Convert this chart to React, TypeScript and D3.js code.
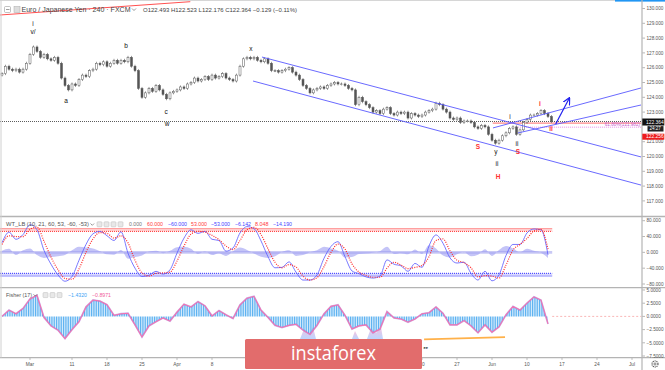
import React from "react";
import * as d3 from "d3";

const FONT = "'Liberation Sans', Arial, sans-serif";

// ---- price data: closes of half-day bars (trading day = index / 2)
const closes = [
  125.6,126.1,125.9,125.8,125.9,125.7,125.9,126.3,126.9,127.4,
  127.1,126.7,126.9,126.6,126.5,126.7,126.3,125.3,124.8,124.5,
  124.9,124.8,125.2,125.5,125.4,125.8,125.9,126.3,126.2,126.4,
  126.1,126.3,126.5,126.3,126.5,126.4,126.7,126.1,125.8,124.6,
  124.0,124.3,124.6,124.4,124.8,124.5,124.2,123.9,124.3,124.4,
  124.5,124.7,124.6,124.9,125.0,125.3,125.1,125.2,125.4,125.2,
  125.5,125.3,125.4,125.6,125.3,125.2,125.1,125.5,126.1,126.6,
  126.7,126.6,126.7,126.5,126.4,126.6,126.3,125.8,125.8,125.7,
  125.8,125.9,126.0,125.7,125.5,125.2,124.8,124.6,124.3,124.5,
  124.6,124.7,124.6,124.8,124.9,125.0,124.9,124.9,124.8,124.6,
  124.5,123.5,124.0,123.7,123.5,123.3,123.0,123.1,122.9,123.2,
  123.3,122.9,122.8,123.0,122.9,123.0,122.6,122.9,122.8,122.7,
  122.8,123.0,123.1,123.2,123.6,123.5,123.2,123.0,122.6,122.5,
  122.6,122.3,122.4,122.4,122.3,122.0,121.9,122.1,122.0,121.5,
  121.1,120.9,121.1,121.4,121.6,121.9,122.0,121.5,121.8,122.3,
  122.5,122.8,122.8,122.9,123.1,122.9,122.7,122.364,
];
const firstOpen = 125.5;

// ---- oscillators, one value per trading day
const wt1 = [
  24,51,33,45,70,57,5,-30,-57,-73,
  -61,-20,20,47,53,42,30,52,-2,-40,
  -61,-58,-48,-55,-44,-2,36,57,48,53,
  33,30,3,11,49,65,60,29,-11,-39,
  -38,-24,-50,-70,-70,-57,-15,15,27,-11,
  -47,-54,-62,-65,-60,-19,-30,-34,-48,-28,
  -38,16,44,23,-14,-27,-25,-53,-70,-48,
  -72,-57,-8,20,20,49,59,57,-6,
];
const wt2 = [
  20,42,40,40,58,64,28,-12,-44,-66,
  -68,-42,0,34,50,48,36,42,24,-20,
  -52,-60,-53,-52,-50,-22,16,46,53,51,
  43,32,16,7,30,57,63,45,9,-25,
  -39,-31,-37,-60,-70,-64,-36,0,21,8,
  -29,-50,-58,-63,-63,-40,-25,-32,-41,-38,
  -33,-11,30,34,4,-20,-26,-39,-62,-59,
  -60,-65,-32,6,20,35,54,58,8,
];
const wtHist = [
  4,9,-7,5,10,-7,-14,-12,-10,-7,
  5,14,12,10,3,-5,-6,6,-16,-12,
  -8,2,4,-2,4,13,14,9,-4,2,
  -7,-2,-9,3,12,6,-3,-11,-14,-10,
  1,5,-9,-7,0,5,14,10,4,-13,
  -12,-4,-3,-1,3,14,-4,-2,-5,7,
  -4,18,10,-8,-13,-5,1,-10,-6,8,
  -9,6,16,10,0,9,4,-1,-14,
];
const fisher = [
  0,1.2,0.5,1.5,3.3,4.0,-0.2,-1.8,-2.6,-4.2,
  -2.5,-1.0,1.8,3.1,2.9,2.2,0.2,0.5,0.6,-1.6,
  -3.9,-1.8,-1.0,-0.3,-0.9,0.8,2.3,1.8,2.8,2.0,
  0.1,1.1,0.3,-0.4,2.2,3.45,3.8,1.2,-0.2,-1.7,
  -2.1,-1.7,-1.5,-2.6,-3.4,-1.7,0.5,1.9,2.2,0.2,
  -2.4,-1.8,-1.6,-3.1,-2.4,0.9,-0.3,-0.5,-1.1,-0.5,
  0.5,0.7,1.8,0.6,-1.6,-1.6,-0.8,-1.8,-3.1,-1.6,
  -3.0,-2.0,0.3,1.9,1.2,2.5,3.7,3.1,-1.43,
];

// ---- axis ticks (labels hidden behind other labels / watermark are not shown)
const priceTicks = [130, 129, 128, 127, 126, 125, 124, 123, 121, 120, 119, 118, 117];
const wtTicks = [80, 40, 0, -40, -80];
const fisherTicks = [5, 2.5, 0, -2.5, -5, -7.5];
const timeLabels = ["Mar", "11", "18", "25", "Apr", "8", "20", "27", "Jun", "10", "17", "24", "Jul"];
const timeDays = [4, 10, 15, 20, 25, 30, 60, 65, 70, 75, 80, 85, 90];

// ---- drawings (day, price)
const channelLines: [number, number][][] = [
  [[37.14, 126.72], [91.29, 119.97]],
  [[35.86, 125.10], [91.29, 118.07]],
  [[70.14, 121.93], [91.29, 124.63]],
  [[73.71, 121.59], [91.29, 123.48]],
];
const arrowLine: [number, number][] = [[79.1, 122.2], [81.0, 123.9]];
const redTopLine: [number, number][] = [[-0.3, 129.56], [26.9, 130.46]];
const lastPrice = 122.364;
const redLevel = 122.256;
const fibLevel = 121.982;
const redLevelStart = 70.1;
const fibStart = 73.7;
const orangeFisherLine: [number, number][] = [[60.3, -4.37], [71.86, -3.94]];

const waveLabels = [
  { d: 4.43, p: 129.0, t: "i", c: "#111" },
  { d: 4.43, p: 128.4, t: "v/", c: "#111" },
  { d: 9.14, p: 123.75, t: "a", c: "#111" },
  { d: 17.71, p: 127.5, t: "b", c: "#111" },
  { d: 23.43, p: 123.0, t: "c", c: "#111" },
  { d: 23.57, p: 122.2, t: "w", c: "#111" },
  { d: 35.57, p: 127.26, t: "x", c: "#111" },
  { d: 68.0, p: 120.64, t: "S", c: "#ff3030" },
  { d: 70.57, p: 120.3, t: "y", c: "#111" },
  { d: 70.71, p: 119.49, t: "ii", c: "#111" },
  { d: 70.86, p: 118.61, t: "H", c: "#ff3030" },
  { d: 72.57, p: 122.67, t: "i", c: "#111" },
  { d: 73.57, p: 120.84, t: "ii", c: "#111" },
  { d: 73.71, p: 120.3, t: "S", c: "#ff3030" },
  { d: 76.86, p: 123.55, t: "i", c: "#ff3030" },
  { d: 78.43, p: 121.86, t: "ii", c: "#ff3030" },
];

// ---- scales
const dayX = d3.scaleLinear().domain([0, 91.3]).range([2, 641.1]);
const priceY = d3.scaleLinear().domain([117, 130]).range([200.9, 8.5]);
const wtY = d3.scaleLinear().domain([-80, 80]).range([284, 220.7]);
const fisherY = d3.scaleLinear().domain([-7.5, 5]).range([356, 290]);

const AX = 641.5;
const minus = (s: string) => s.replace("-", "\u2212");

export default function App() {
  const candleW = 2.0;
  const candles = closes.map((c, i) => {
    const o = i === 0 ? firstOpen : closes[i - 1];
    const hi = Math.max(o, c) + 0.1;
    const lo = Math.min(o, c) - 0.1;
    const x = dayX(i / 2);
    const up = c >= o;
    const yTop = priceY(Math.max(o, c));
    const yBot = priceY(Math.min(o, c));
    return (
      <g key={i}>
        <line x1={x} x2={x} y1={priceY(hi)} y2={priceY(lo)} stroke="#555" strokeWidth={0.6} />
        <rect x={x - candleW / 2} y={yTop} width={candleW} height={Math.max(0.6, yBot - yTop)}
          fill={up ? "#fff" : "#555"} stroke="#555" strokeWidth={0.5} />
      </g>
    );
  });

  const ptLine = d3.line<[number, number]>().x((d) => dayX(d[0])).y((d) => priceY(d[1]));
  const wtLine = d3.line<number>().x((_, i) => dayX(i)).y((v) => wtY(v)).curve(d3.curveMonotoneX);
  const wtArea = d3.area<number>().x((_, i) => dayX(i)).y0(wtY(0)).y1((v) => wtY(v)).curve(d3.curveMonotoneX);
  const fLine = d3.line<number>().x((_, i) => dayX(i)).y((v) => fisherY(v));
  const fArea = d3.area<number>().x((_, i) => dayX(i)).y0(fisherY(0)).y1((v) => fisherY(v));
  const oscEnd = dayX(78.6);

  const iconSq = (x: number, y: number, k: number) => (
    <rect key={k} x={x} y={y} width={5} height={5} rx={0.8} fill="#e8e8e8" stroke="#bbb" strokeWidth={0.5} />
  );

  return (
    <svg width={665} height={370} style={{ position: "absolute", left: 0, top: 0, background: "#fff" }} fontFamily={FONT}>
      <defs>
        <clipPath id="cMain"><rect x={0} y={0} width={AX} height={216} /></clipPath>
        <clipPath id="cWt"><rect x={0} y={217} width={AX} height={70} /></clipPath>
        <clipPath id="cFi"><rect x={0} y={288} width={AX} height={69} /></clipPath>
        <pattern id="stripes" width={1.75} height={4} patternUnits="userSpaceOnUse">
          <rect x={0} y={0} width={1.05} height={4} fill="#55aef0" />
        </pattern>
        <marker id="arr" viewBox="0 0 10 10" refX={8} refY={5} markerWidth={6} markerHeight={6} orient="auto">
          <path d="M0,0 L10,5 L0,10" fill="none" stroke="#2020ee" strokeWidth={1.6} />
        </marker>
        <linearGradient id="logoG" x1="0" y1="1" x2="0" y2="0">
          <stop offset="0" stopColor="#9fc4ff" />
          <stop offset="1" stopColor="#f4a6d0" />
        </linearGradient>
      </defs>

      <rect x={0} y={0} width={665} height={370} fill="#fff" />

      {/* ===== MAIN PANE ===== */}
      <g clipPath="url(#cMain)">
        <line x1={0} x2={AX} y1={priceY(lastPrice)} y2={priceY(lastPrice)} stroke="#333" strokeWidth={0.8} strokeDasharray="1,1" />
        <line x1={dayX(redLevelStart)} x2={AX} y1={priceY(redLevel)} y2={priceY(redLevel)} stroke="#ff6b6b" strokeWidth={1.2} opacity={0.8} />
        <line x1={dayX(fibStart)} x2={AX} y1={priceY(fibLevel)} y2={priceY(fibLevel)} stroke="#e070e0" strokeWidth={0.8} strokeDasharray="1,1" />
        <text x={640} y={priceY(fibLevel) - 1.4} textAnchor="end" fontSize={4.6} fill="#c45ed0">61.80%(121.982)</text>
        {candles}
        {channelLines.map((l, i) => (
          <path key={i} d={ptLine(l) || ""} stroke="#5a5aff" strokeWidth={1} fill="none" opacity={0.9} />
        ))}
        <path d={ptLine(arrowLine) || ""} stroke="#2020ee" strokeWidth={1.2} fill="none" markerEnd="url(#arr)" />
        <path d={ptLine(redTopLine) || ""} stroke="#ff5050" strokeWidth={1} fill="none" />
        {waveLabels.map((w, i) => (
          <text key={i} x={dayX(w.d)} y={priceY(w.p) + 2.2} textAnchor="middle" fontSize={6.5}
            fill={w.c} fontWeight={w.c === "#111" ? 400 : 700}>{w.t}</text>
        ))}
      </g>

      {/* header */}
      <rect x={0} y={0} width={665} height={1} fill="#d6d6d6" />
      <rect x={615} y={0} width={50} height={1.6} fill="#2196f3" />
      <rect x={4.5} y={6.5} width={6} height={6} rx={1} fill="#fff" stroke="#999" strokeWidth={0.6} />
      <line x1={6} x2={9.5} y1={9.5} y2={9.5} stroke="#777" strokeWidth={0.7} />
      <rect x={14} y={6.5} width={6} height={6} fill="#ddd" stroke="#aaa" strokeWidth={0.5} />
      <text x={21.5} y={12.3} fontSize={7} fill="#444" textLength={109} lengthAdjust="spacingAndGlyphs">Euro / Japanese Yen · 240 · FXCM</text>
      <path d="M132,8.5 L134,10.5 L136,8.5" fill="none" stroke="#555" strokeWidth={0.6} />
      <text x={143} y={12} fontSize={5.8} fill="#444" textLength={154} lengthAdjust="spacingAndGlyphs">O122.493  H122.523  L122.176  C122.364  −0.129 (−0.11%)</text>

      {/* ===== WT PANE ===== */}
      <g clipPath="url(#cWt)">
        <rect x={0} y={wtY(60)} width={oscEnd} height={wtY(53) - wtY(60)} fill="#ffb3b3" opacity={0.55} />
        <line x1={0} x2={oscEnd} y1={wtY(60)} y2={wtY(60)} stroke="#ff8a8a" strokeWidth={0.9} />
        <line x1={0} x2={oscEnd} y1={wtY(53)} y2={wtY(53)} stroke="#ff3030" strokeWidth={1} strokeDasharray="1,1" />
        <rect x={0} y={wtY(-53)} width={oscEnd} height={wtY(-60) - wtY(-53)} fill="#b9b9ff" opacity={0.55} />
        <line x1={0} x2={oscEnd} y1={wtY(-60)} y2={wtY(-60)} stroke="#8a8aff" strokeWidth={0.9} />
        <line x1={0} x2={oscEnd} y1={wtY(-53)} y2={wtY(-53)} stroke="#3030ff" strokeWidth={1} strokeDasharray="1,1" />
        <line x1={0} x2={oscEnd} y1={wtY(0)} y2={wtY(0)} stroke="#c9c9f5" strokeWidth={2.6} />
        <path d={wtArea(wtHist) || ""} fill="#9c9cf2" opacity={0.6} />
        <path d={wtLine(wt1) || ""} fill="none" stroke="#6060ff" strokeWidth={1} opacity={0.85} />
        <path d={wtLine(wt2) || ""} fill="none" stroke="#ff2a2a" strokeWidth={1.2} strokeDasharray="1,1.3" />
      </g>
      <text x={6} y={226.3} fontSize={5.6} fill="#555" textLength={83} lengthAdjust="spacingAndGlyphs">WT_LB (10, 21, 60, 53, -60, -53)</text>
      <path d="M90.5,223.5 L92.3,225.3 L94.1,223.5" fill="none" stroke="#555" strokeWidth={0.6} />
      {[97, 104, 111, 118].map((x, k) => iconSq(x, 221.8, k))}
      <text x={129} y={226.3} fontSize={5.4} fill="#777" textLength={13} lengthAdjust="spacingAndGlyphs">0.000</text>
      <text x={147} y={226.3} fontSize={5.4} fill="#ff3b3b" textLength={16} lengthAdjust="spacingAndGlyphs">60.000</text>
      <text x={168} y={226.3} fontSize={5.4} fill="#3f3fff" textLength={19} lengthAdjust="spacingAndGlyphs">−60.000</text>
      <text x={191} y={226.3} fontSize={5.4} fill="#ff3b3b" textLength={16} lengthAdjust="spacingAndGlyphs">53.000</text>
      <text x={211} y={226.3} fontSize={5.4} fill="#3f3fff" textLength={19} lengthAdjust="spacingAndGlyphs">−53.000</text>
      <text x={235} y={226.3} fontSize={5.4} fill="#3f3fff" textLength={16} lengthAdjust="spacingAndGlyphs">−6.142</text>
      <text x={255} y={226.3} fontSize={5.4} fill="#ff3b3b" textLength={13.5} lengthAdjust="spacingAndGlyphs">8.048</text>
      <text x={273} y={226.3} fontSize={5.4} fill="#3f3fff" textLength={19} lengthAdjust="spacingAndGlyphs">−14.190</text>

      {/* ===== FISHER PANE ===== */}
      <g clipPath="url(#cFi)">
        <path d="M300,339 L304,329 L309,334 L313,327 L316,339 Z" fill="url(#logoG)" opacity={0.7} />
        <path d="M352,339 L355,331 L359,339 Z" fill="url(#logoG)" opacity={0.7} />
        <path d="M367,339 L371,328 L376,333 L381,327 L383,339 Z" fill="url(#logoG)" opacity={0.7} />
        <path d={fArea(fisher) || ""} fill="url(#stripes)" />
        <path d={fLine(fisher) || ""} fill="none" stroke="#8a6fe0" strokeWidth={1.8} opacity={0.45} />
        <path d={fLine(fisher) || ""} fill="none" stroke="#f273b0" strokeWidth={1.1} />
        <line x1={dayX(78.6)} x2={AX} y1={fisherY(0)} y2={fisherY(0)} stroke="#f7a3a3" strokeWidth={0.8} strokeDasharray="2,2" />
        <path d={d3.line<[number, number]>().x((d) => dayX(d[0])).y((d) => fisherY(d[1]))(orangeFisherLine) || ""}
          stroke="#ffb14a" strokeWidth={1.8} fill="none" />
        <text x={423.5} y={348.5} fontSize={4} fill="#222" fontWeight={700}>ee</text>
      </g>
      <text x={6} y={297} fontSize={5.6} fill="#555" textLength={26} lengthAdjust="spacingAndGlyphs">Fisher (17)</text>
      <path d="M33.5,294.3 L35.3,296.1 L37.1,294.3" fill="none" stroke="#555" strokeWidth={0.6} />
      {[43, 50, 57].map((x, k) => iconSq(x, 292.6, k))}
      <text x={68} y={297} fontSize={5.4} fill="#42a5f5" textLength={19} lengthAdjust="spacingAndGlyphs">−1.4320</text>
      <text x={92} y={297} fontSize={5.4} fill="#f0609a" textLength={19} lengthAdjust="spacingAndGlyphs">−0.8971</text>

      {/* pane separators and axes */}
      <line x1={0} x2={665} y1={216.5} y2={216.5} stroke="#b4b4b4" strokeWidth={1.3} />
      <line x1={0} x2={665} y1={287.6} y2={287.6} stroke="#b4b4b4" strokeWidth={1.3} />
      <line x1={0} x2={665} y1={357.6} y2={357.6} stroke="#b4b4b4" strokeWidth={1.2} />
      <line x1={1} x2={1} y1={0} y2={357.6} stroke="#d0d0d0" strokeWidth={1} />
      <line x1={AX + 0.5} x2={AX + 0.5} y1={0} y2={370} stroke="#b4b4b4" strokeWidth={1.2} />

      {priceTicks.map((v) => (
        <g key={"p" + v}>
          <line x1={AX + 1} x2={AX + 3.5} y1={priceY(v)} y2={priceY(v)} stroke="#888" strokeWidth={0.6} />
          <text x={646.5} y={priceY(v) + 1.7} fontSize={4.7} fill="#555">{v.toFixed(3)}</text>
        </g>
      ))}
      {wtTicks.map((v) => (
        <g key={"w" + v}>
          <line x1={AX + 1} x2={AX + 3.5} y1={wtY(v)} y2={wtY(v)} stroke="#888" strokeWidth={0.6} />
          <text x={646.5} y={wtY(v) + 1.7} fontSize={4.7} fill="#555">{minus(v.toFixed(3))}</text>
        </g>
      ))}
      {fisherTicks.map((v) => (
        <g key={"f" + v}>
          <line x1={AX + 1} x2={AX + 3.5} y1={fisherY(v)} y2={fisherY(v)} stroke="#888" strokeWidth={0.6} />
          <text x={646.5} y={fisherY(v) + 1.7} fontSize={4.7} fill="#555">{minus(v.toFixed(4))}</text>
        </g>
      ))}

      {/* price labels */}
      <rect x={AX + 0.8} y={priceY(lastPrice) - 3} width={22} height={7} fill="#111" />
      <text x={646} y={priceY(lastPrice) + 2.2} fontSize={4.9} fill="#fff">122.364</text>
      <rect x={AX + 6} y={priceY(lastPrice) + 4.6} width={16} height={5.4} fill="#222" />
      <text x={649.5} y={priceY(lastPrice) + 8.8} fontSize={4.5} fill="#fff">24:27</text>
      <rect x={AX + 0.8} y={priceY(lastPrice) + 12.2} width={22} height={6} fill="#ee1c1c" />
      <text x={646} y={priceY(lastPrice) + 16.9} fontSize={4.9} fill="#fff">122.256</text>

      {/* time axis */}
      {timeLabels.map((t, i) => (
        <g key={"t" + i}>
          <line x1={dayX(timeDays[i])} x2={dayX(timeDays[i])} y1={358} y2={360} stroke="#999" strokeWidth={0.6} />
          <text x={dayX(timeDays[i])} y={366} textAnchor="middle" fontSize={4.8} fill="#555">{t}</text>
        </g>
      ))}
      <circle cx={655} cy={364} r={3} fill="none" stroke="#555" strokeWidth={1.1} strokeDasharray="1.2,0.7" />
      <circle cx={655} cy={364} r={1.1} fill="none" stroke="#555" strokeWidth={0.7} />

      {/* watermark logo */}
      <rect x={245} y={339} width={177} height={30} rx={1.5} fill="#e26c6c" />
      <text x={333.5} y={360} textAnchor="middle" fontSize={20} fill="#fff" fontFamily="'Open Sans', 'Noto Sans', sans-serif"
        textLength={85} lengthAdjust="spacingAndGlyphs">instaforex</text>
    </svg>
  );
}
